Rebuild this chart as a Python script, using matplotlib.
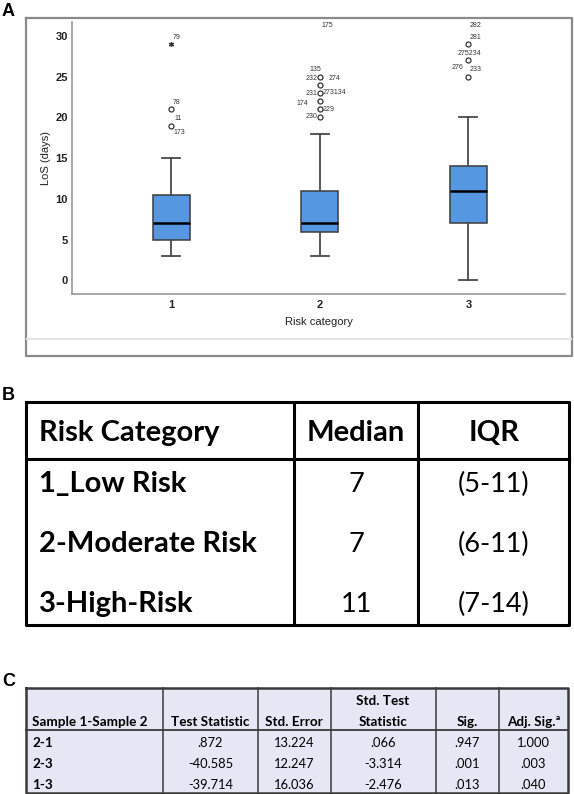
import numpy as np
import matplotlib.pyplot as plt

# ---- Panel A: LoS (days) by risk category (SPSS box plot) ----
categories = [1, 2, 3]
whisker_low = [3, 3, 0]
q1 = [5, 6, 7]
medians = [7, 7, 11]
q3 = [10.5, 11, 14]
whisker_high = [15, 18, 20]

# outliers (open circles) and the extreme case (star)
outlier_cat = [1, 1, 2, 2, 2, 2, 2, 2, 2, 3, 3, 3, 3]
outlier_val = [19, 21, 20, 21, 22, 23, 24, 25, 32.5, 25, 27, 29, 32.5]
extreme_cat = [1]
extreme_val = [29]

# case numbers printed next to the outliers
case_cat = [1, 1, 1, 1, 2, 2, 2, 2, 2, 2, 2, 2, 2, 3, 3, 3, 3, 3]
case_val = [29, 21, 19, 19, 20, 21, 22, 23, 23, 25, 25, 25, 32.5, 25, 25, 27, 29, 32.5]
case_text = ['79', '78', '11', '173', '230', '229', '174', '231', '273134',
             '232', '274', '135', '175', '276', '233', '275234', '281', '282']
# label placement (offset in pixels, horizontal alignment)
case_offset = [(2, 7, 'left'), (2, 7, 'left'), (3, 7, 'left'), (2, -7, 'left'),
               (-2, 1, 'right'), (3, 0, 'left'), (-12, -2, 'right'),
               (-2, -1, 'right'), (3, 0, 'left'), (-2, -2, 'right'),
               (9, -2, 'left'), (-10, 7, 'left'), (2, -10, 'left'),
               (-5, 9, 'right'), (1, 7, 'left'), (1, 7, 'center'),
               (1, 7, 'left'), (1, -10, 'left')]

# ---- Panel B: median / IQR table ----
risk_names = ['1_Low Risk', '2-Moderate Risk', '3-High-Risk']
risk_median = ['7', '7', '11']
risk_iqr = ['(5-11)', '(6-11)', '(7-14)']

# ---- Panel C: pairwise comparisons ----
c_header = ['Sample 1-Sample 2', 'Test Statistic', 'Std. Error',
            'Statistic', 'Sig.', 'Adj. Sig.ª']
c_pairs = ['2-1', '2-3', '1-3']
c_test_stat = ['.872', '-40.585', '-39.714']
c_std_err = ['13.224', '12.247', '16.036']
c_std_test = ['.066', '-3.314', '-2.476']
c_sig = ['.947', '.001', '.013']
c_adj_sig = ['1.000', '.003', '.040']

W, H = 574, 794
fig = plt.figure(figsize=(W / 100, H / 100), dpi=100)

# overlay in pixel coordinates for the frames and tables
ov = fig.add_axes([0, 0, 1, 1])
ov.set_xlim(0, W)
ov.set_ylim(H, 0)
ov.axis('off')

arial = 'Liberation Sans'
calib = 'Lato'

# panel letters
for letter, y in [('A', 11), ('B', 396), ('C', 681)]:
    ov.text(2, y, letter, fontsize=13, fontweight='bold', family=arial,
            va='center', ha='left')

# panel A frame
ov.plot([26, 572, 572, 26, 26], [18, 18, 356, 356, 18], color='#8a8a8a', lw=1.6)
ov.plot([27, 571], [339, 339], color='#e6e6e6', lw=1.6)

# ---- box plot ----
ax = fig.add_axes([72 / W, 1 - 294 / H, (565 - 72) / W, (294 - 22) / H])
ax.set_facecolor('none')
stats = []
for i in range(len(categories)):
    stats.append(dict(med=medians[i], q1=q1[i], q3=q3[i],
                      whislo=whisker_low[i], whishi=whisker_high[i], fliers=[]))
ax.bxp(stats, positions=categories, widths=0.25, capwidths=0.12,
       showfliers=False, patch_artist=True,
       boxprops=dict(facecolor='#5597e0', edgecolor='#3c3c3c', lw=1.1),
       medianprops=dict(color='black', lw=1.8),
       whiskerprops=dict(color='#4a4a4a', lw=1.3),
       capprops=dict(color='#4a4a4a', lw=1.3))
ax.plot(outlier_cat, outlier_val, 'o', ms=3.6, mfc='white', mec='#333333',
        mew=0.9, ls='none', zorder=4)
ax.plot(extreme_cat, extreme_val, marker=(6, 2, 0), ms=3.6, color='#333333',
        mew=0.9, ls='none', zorder=4)
for c, v, t, (dx, dy, ha) in zip(case_cat, case_val, case_text, case_offset):
    ax.annotate(t, (c, v), xytext=(dx, dy), textcoords='offset pixels',
                fontsize=5, family=arial, color='#333333', ha=ha, va='center',
                annotation_clip=False)

ax.set_xlim(0.333, 3.65)
ax.set_ylim(-1.66, 31.7)
ax.set_xticks(categories)
ax.set_yticks([0, 5, 10, 15, 20, 25, 30])
ax.tick_params(length=0, labelsize=8, colors='#222222')
ax.tick_params(axis='y', pad=3)
ax.tick_params(axis='x', pad=4)
for lab in ax.get_xticklabels() + ax.get_yticklabels():
    lab.set_family(arial)
    lab.set_fontweight('bold')
for s in ['top', 'right']:
    ax.spines[s].set_visible(False)
for s in ['left', 'bottom']:
    ax.spines[s].set_color('#9a9a9a')
    ax.spines[s].set_linewidth(1.2)
ax.set_ylabel('LoS (days)', fontsize=8, family=arial, color='#222222')
ax.set_xlabel('Risk category', fontsize=8, family=arial, color='#222222')
ax.yaxis.set_label_coords(-0.043, 0.5)
ax.xaxis.set_label_coords(0.5, -0.085)

# ---- table B ----
bl, br, bt, bh, bb = 26, 569, 402, 459, 625
bcols = [294, 418]
ov.plot([bl, br, br, bl, bl], [bt, bt, bb, bb, bt], color='black', lw=2.2)
ov.plot([bl, br], [bh, bh], color='black', lw=2.2)
for x in bcols:
    ov.plot([x, x], [bt, bb], color='black', lw=2.2)
bfs, rfs = 21, 19.5
ov.text(39, 433, 'Risk Category', family=calib, fontweight='bold', fontsize=bfs, va='center')
ov.text(356, 433, 'Median', family=calib, fontweight='bold', fontsize=bfs, va='center', ha='center')
ov.text(494, 433, 'IQR', family=calib, fontweight='bold', fontsize=bfs, va='center', ha='center')
for i, y in enumerate([484, 544, 604]):
    ov.text(39, y, risk_names[i], family=calib, fontweight='bold', fontsize=bfs, va='center')
    ov.text(356, y, risk_median[i], family=calib, fontsize=rfs, va='center', ha='center')
    ov.text(494, y, risk_iqr[i], family=calib, fontsize=rfs, va='center', ha='center')

# ---- table C ----
cl, cr, ct, ch, cb = 26, 568, 688, 730, 793
ccols = [163, 258, 330.5, 435.7, 499]
ov.fill_between([cl, cr], ct, cb, color='#e5e8f4', lw=0)
ov.plot([cl, cr], [ch, ch], color='#3a3a3a', lw=1.3)
for x in ccols:
    ov.plot([x, x], [ct, cb], color='#3a3a3a', lw=1.1)
ov.plot([cl, cr, cr, cl, cl], [ct, ct, cb, cb, ct], color='#3a3a3a', lw=1.8)
cbf, crf = 9.7, 9.3
ccenters = [None, 210.5, 294.3, 383, 467.3, 533.5]
ov.text(32, 722, c_header[0], family=calib, fontweight='bold', fontsize=cbf, va='center')
for j in range(1, 6):
    ov.text(ccenters[j], 722, c_header[j], family=calib, fontweight='bold',
            fontsize=cbf, va='center', ha='center')
ov.text(ccenters[3], 701, 'Std. Test', family=calib, fontweight='bold',
        fontsize=cbf, va='center', ha='center')
cols = [c_test_stat, c_std_err, c_std_test, c_sig, c_adj_sig]
for i, y in enumerate([743, 764, 785]):
    ov.text(32, y, c_pairs[i], family=calib, fontweight='bold', fontsize=cbf, va='center')
    for j, col in enumerate(cols):
        ov.text(ccenters[j + 1], y, col[i], family=calib, fontsize=crf,
                va='center', ha='center')

fig.savefig('out.png', dpi=100)
